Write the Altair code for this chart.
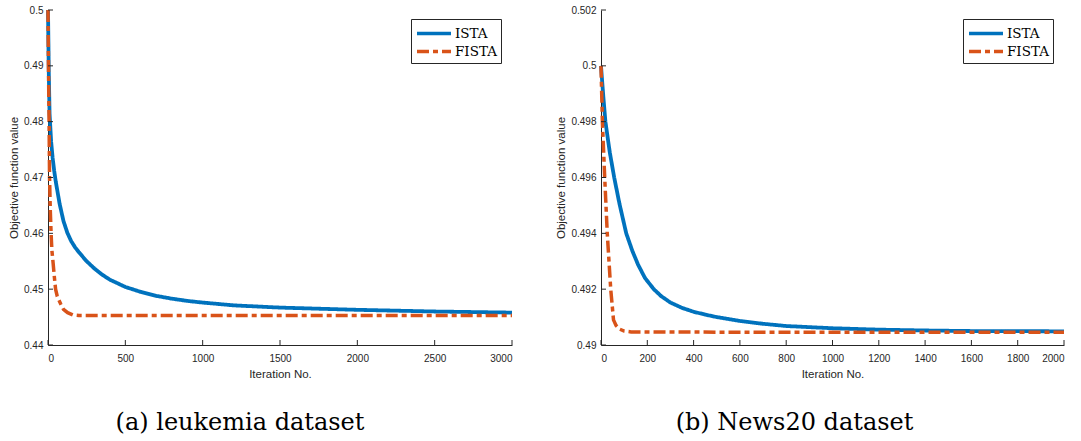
import altair as alt
import pandas as pd

# ---------------- data ----------------
leuk_ista_iter = [0, 5, 10, 20, 30, 40, 50, 75, 100, 125, 150, 175, 200, 250, 300, 350, 400,
                  500, 600, 700, 800, 900, 1000, 1200, 1500, 2000, 2500, 3000]
leuk_ista_val = [0.5000, 0.4890, 0.4815, 0.4765, 0.4735, 0.4712, 0.4693, 0.4653, 0.4622,
                 0.4601, 0.4586, 0.4575, 0.4566, 0.4550, 0.4537, 0.4526, 0.4517, 0.4504,
                 0.4495, 0.4488, 0.4483, 0.4479, 0.4476, 0.4471, 0.4467, 0.4463, 0.4460,
                 0.4458]

leuk_fista_iter = [0, 3, 7, 10, 15, 20, 25, 33, 40, 49, 60, 83, 100, 127, 160, 200,
                   500, 1000, 1500, 2000, 2500, 3000]
leuk_fista_val = [0.5000, 0.4900, 0.4800, 0.4700, 0.4640, 0.4600, 0.4570, 0.4547, 0.4525,
                  0.4500, 0.4487, 0.4473, 0.4464, 0.4458, 0.4454, 0.4453, 0.4453, 0.4453,
                  0.4453, 0.4453, 0.4453, 0.4453]

news_ista_iter = [0, 5, 10, 19, 38, 57, 80, 109, 135, 160, 190, 228, 260, 300, 350, 400,
                  450, 500, 600, 700, 800, 900, 1000, 1200, 1400, 1600, 2000]
news_ista_val = [0.50000, 0.49945, 0.49890, 0.49800, 0.49690, 0.49600, 0.49505, 0.49400,
                 0.49338, 0.49288, 0.49240, 0.49200, 0.49175, 0.49152, 0.49133, 0.49119,
                 0.49109, 0.49100, 0.49086, 0.49076, 0.49068, 0.49064, 0.49060, 0.49055,
                 0.49052, 0.49050, 0.49049]

news_fista_iter = [0, 6, 16, 27, 42, 54, 65, 80, 100, 130, 500, 1000, 1500, 2000]
news_fista_val = [0.50000, 0.49800, 0.49600, 0.49400, 0.49200, 0.49090, 0.49070, 0.49057,
                  0.49050, 0.49047, 0.49046, 0.49046, 0.49046, 0.49046]

series_names = ["ISTA", "FISTA"]
series_colors = ["#0072BD", "#D95319"]

leuk_x_ticks = [0, 500, 1000, 1500, 2000, 2500, 3000]
leuk_y_ticks = [0.44, 0.45, 0.46, 0.47, 0.48, 0.49, 0.5]
news_x_ticks = [0, 200, 400, 600, 800, 1000, 1200, 1400, 1600, 1800, 2000]
news_y_ticks = [0.49, 0.492, 0.494, 0.496, 0.498, 0.5, 0.502]

captions = ["(a) leukemia dataset", "(b) News20 dataset"]

AX = "#262626"
W1, W2, H = 464, 463, 335
TICK = 5


def frame(iters_a, vals_a, iters_b, vals_b):
    a = pd.DataFrame({"iter": iters_a, "value": vals_a, "series": series_names[0]})
    b = pd.DataFrame({"iter": iters_b, "value": vals_b, "series": series_names[1]})
    return pd.concat([a, b], ignore_index=True)


def panel(df, xdom, xticks, ydom, yticks, W, caption, cap_dx):
    legend = alt.Legend(orient="none", legendX=W - 101, legendY=9, title=None)
    color = alt.Color("series:N", scale=alt.Scale(domain=series_names, range=series_colors),
                      legend=legend)
    dash = alt.StrokeDash("series:N",
                          scale=alt.Scale(domain=series_names, range=[[1, 0], [12, 4, 5, 4]]),
                          legend=legend)
    xs = alt.Scale(domain=xdom, nice=False, zero=False)
    ys = alt.Scale(domain=ydom, nice=False, zero=False)

    x_main = alt.X("iter:Q", scale=xs,
                   axis=alt.Axis(orient="bottom", values=xticks, format="d",
                                 title="Iteration No.", tickSize=0, labelPadding=8,
                                 titlePadding=5, grid=False))
    y_main = alt.Y("value:Q", scale=ys,
                   axis=alt.Axis(orient="left", values=yticks, format="~g",
                                 title="Objective function value", tickSize=0,
                                 labelPadding=5, titlePadding=4, grid=False))

    base = alt.Chart(df)
    ista = base.transform_filter(alt.datum.series == series_names[0]).mark_line(
        strokeWidth=3.8).encode(x=x_main, y=y_main, color=color, strokeDash=dash,
                                order="iter:Q")
    fista = base.transform_filter(alt.datum.series == series_names[1]).mark_line(
        strokeWidth=3.5).encode(x=alt.X("iter:Q", scale=xs), y=alt.Y("value:Q", scale=ys),
                                color=color, strokeDash=dash, order="iter:Q")

    # inward-pointing tick marks (MATLAB style), positioned by the shared scales
    xt = alt.Chart(pd.DataFrame({"iter": xticks})).mark_rule(color=AX, strokeWidth=1).encode(
        x=alt.X("iter:Q", scale=xs), y=alt.value(H), y2=alt.value(H - TICK))
    yt = alt.Chart(pd.DataFrame({"value": yticks})).mark_rule(color=AX, strokeWidth=1).encode(
        y=alt.Y("value:Q", scale=ys), x=alt.value(0), x2=alt.value(TICK))

    return alt.layer(ista, fista, xt, yt).properties(
        width=W, height=H,
        title=alt.TitleParams(caption, orient="bottom", anchor="middle", frame="group",
                              font="DejaVu Serif", fontSize=24, fontWeight="normal",
                              color="black", offset=31, dx=cap_dx))


left = panel(frame(leuk_ista_iter, leuk_ista_val, leuk_fista_iter, leuk_fista_val),
             [0, 3000], leuk_x_ticks, [0.44, 0.5], leuk_y_ticks, W1, captions[0], -40)
right = panel(frame(news_ista_iter, news_ista_val, news_fista_iter, news_fista_val),
              [0, 2000], news_x_ticks, [0.49, 0.502], news_y_ticks, W2, captions[1], -38)

chart = alt.hconcat(left, right, spacing=35).resolve_scale(
    color="independent", strokeDash="independent").resolve_legend(
    color="independent", strokeDash="independent").properties(
    padding={"left": 8, "top": 2, "right": 0, "bottom": 0},
    background="white").configure_view(stroke=None).configure_axis(
    labelFont="Liberation Sans", labelFontSize=10, labelColor=AX,
    titleFont="Liberation Sans", titleFontSize=11.5, titleFontWeight="normal",
    titleColor=AX, domainColor=AX, domainWidth=1, tickColor=AX, tickWidth=1
).configure_legend(
    strokeColor=AX, fillColor="white", padding=4, cornerRadius=0,
    symbolType="M-1,0H3", symbolSize=289, symbolStrokeWidth=3.5,
    labelFont="DejaVu Serif", labelFontSize=13.5, labelColor="black",
    labelOffset=19, rowPadding=0
)

chart.save("out.html", embed_options={"renderer": "svg", "actions": False})
